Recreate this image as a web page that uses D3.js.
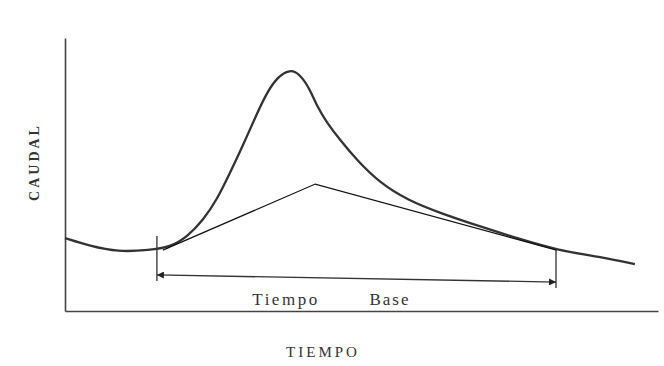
<!DOCTYPE html>
<html>
<head>
<meta charset="utf-8">
<script src="https://d3js.org/d3.v7.min.js"></script>
<style>
  body { margin: 0; background: #fff; }
  svg { display: block; }
</style>
</head>
<body>
<div id="chart"></div>
<script>
// hidrograma: tiempo vs caudal (unidades relativas 0-100)
var tiempo = [0, 4.2, 8.9, 14.3, 17.7, 20.6, 23.3, 25.6, 27.8, 30, 32.4, 34.1, 35.8, 37.9, 39.6, 41.3, 42.5, 44.2, 46.4, 49.2, 53.1, 57.7, 63.2, 70.8, 76.2, 83, 90.2, 96.1];
var caudal = [26.7, 23.8, 21.6, 22.3, 23.4, 27.1, 33.3, 40.7, 50.5, 60.6, 72.5, 80.2, 85.6, 88.6, 86.8, 81.3, 74.9, 68.9, 62.6, 55.3, 46.9, 40.7, 35.9, 30.4, 26.7, 22.3, 19.8, 17.2];

// flujo base (separacion lineal)
var baseT = [16.5, 42.2, 82.9];
var baseQ = [22.3, 46.5, 22.3];

// tiempo base: marcas verticales y flecha
var tbT = [15.5, 82.8];
var tbTop = [27.5, 22.3];
var tbBottom = [11, 8.4];
var tbArrowQ = [13.2, 10.6];

var W = 664, H = 366;
var margin = {top: 38, right: 6, bottom: 55, left: 65};

var svg = d3.select("#chart").append("svg")
    .attr("width", W)
    .attr("height", H);

var x = d3.scaleLinear().domain([0, 100]).range([margin.left, W - margin.right]);
var y = d3.scaleLinear().domain([0, 100]).range([H - margin.bottom, margin.top]);

// arrow heads
var defs = svg.append("defs");
defs.append("marker")
    .attr("id", "arrow")
    .attr("viewBox", "0 0 10 10")
    .attr("refX", 10).attr("refY", 5)
    .attr("markerWidth", 10).attr("markerHeight", 7)
    .attr("markerUnits", "userSpaceOnUse")
    .attr("orient", "auto-start-reverse")
  .append("path")
    .attr("d", "M0,0 L10,5 L0,10 z")
    .attr("fill", "#222");

// axes (just the lines, no ticks)
svg.append("g")
    .attr("transform", "translate(0," + y(0) + ")")
    .call(d3.axisBottom(x).tickValues([]).tickSizeOuter(0))
    .select(".domain").attr("stroke", "#444").attr("stroke-width", 1.6);

svg.append("g")
    .attr("transform", "translate(" + x(0) + ",0)")
    .call(d3.axisLeft(y).tickValues([]).tickSizeOuter(0))
    .select(".domain").attr("stroke", "#444").attr("stroke-width", 1.6);

// hidrograma
var pts = tiempo.map((t, i) => [t, caudal[i]]);
var line = d3.line()
    .x(d => x(d[0]))
    .y(d => y(d[1]))
    .curve(d3.curveBasis);

svg.append("path")
    .datum(pts)
    .attr("d", line)
    .attr("fill", "none")
    .attr("stroke", "#333")
    .attr("stroke-width", 2.3);

// flujo base
var basePts = baseT.map((t, i) => [t, baseQ[i]]);
svg.append("path")
    .datum(basePts)
    .attr("d", d3.line().x(d => x(d[0])).y(d => y(d[1])))
    .attr("fill", "none")
    .attr("stroke", "#111")
    .attr("stroke-width", 1.2);

// marcas verticales del tiempo base
svg.selectAll(".tb")
    .data(tbT)
  .enter().append("line")
    .attr("class", "tb")
    .attr("x1", d => x(d)).attr("x2", d => x(d))
    .attr("y1", (d, i) => y(tbTop[i]))
    .attr("y2", (d, i) => y(tbBottom[i]))
    .attr("stroke", "#333")
    .attr("stroke-width", 1.3);

// flecha doble
svg.append("line")
    .attr("x1", x(tbT[0])).attr("y1", y(tbArrowQ[0]))
    .attr("x2", x(tbT[1])).attr("y2", y(tbArrowQ[1]))
    .attr("stroke", "#333")
    .attr("stroke-width", 1.3)
    .attr("marker-start", "url(#arrow)")
    .attr("marker-end", "url(#arrow)");

// textos
var serif = "Liberation Serif, DejaVu Serif, serif";
svg.append("text")
    .attr("x", 286).attr("y", 305)
    .attr("text-anchor", "middle")
    .attr("font-family", serif)
    .attr("font-size", 17)
    .attr("letter-spacing", 2.5)
    .attr("fill", "#333")
    .text("Tiempo");

svg.append("text")
    .attr("x", 390).attr("y", 305)
    .attr("text-anchor", "middle")
    .attr("font-family", serif)
    .attr("font-size", 17)
    .attr("letter-spacing", 2)
    .attr("fill", "#333")
    .text("Base");

svg.append("text")
    .attr("x", 323).attr("y", 357)
    .attr("text-anchor", "middle")
    .attr("font-family", serif)
    .attr("font-size", 15)
    .attr("letter-spacing", 3)
    .attr("fill", "#333")
    .text("TIEMPO");

svg.append("text")
    .attr("transform", "translate(39,162) rotate(-90)")
    .attr("text-anchor", "middle")
    .attr("font-family", serif)
    .attr("font-size", 14)
    .attr("font-weight", "bold")
    .attr("letter-spacing", 3)
    .attr("fill", "#333")
    .text("CAUDAL");
</script>
</body>
</html>
